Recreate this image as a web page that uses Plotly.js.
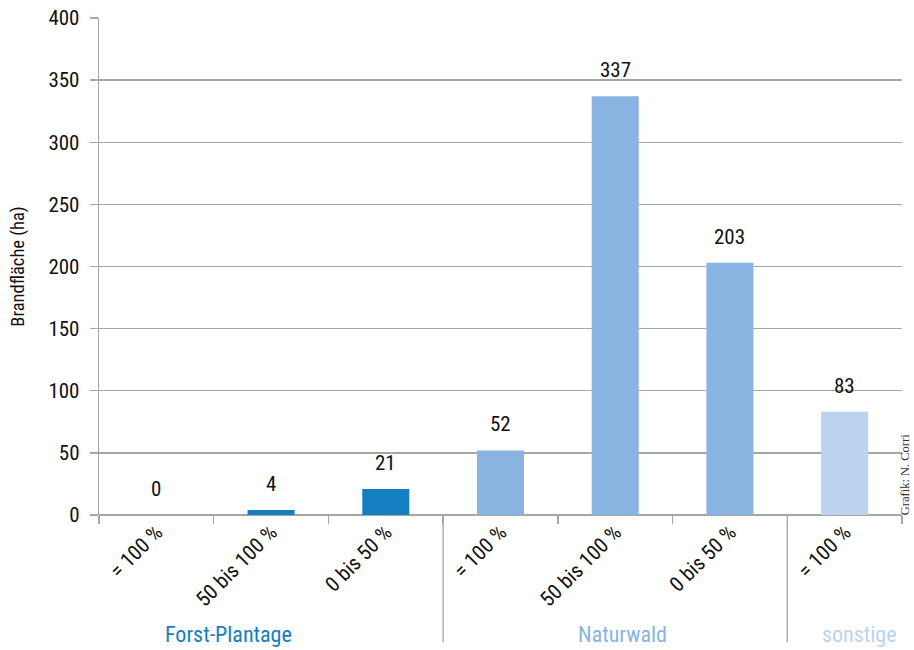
<!DOCTYPE html>
<html>
<head>
<meta charset="utf-8">
<script src="https://cdn.plot.ly/plotly-3.0.1.min.js"></script>
<style>html,body{margin:0;padding:0;background:#fff;}#chart{width:914px;height:650px;}</style>
</head>
<body>
<div id="chart"></div>
<script>
// ---- data ----
var groups = ["Forst-Plantage", "Forst-Plantage", "Forst-Plantage", "Naturwald", "Naturwald", "Naturwald", "sonstige"];
var categoryLabels = ["= 100 %", "50 bis 100 %", "0 bis 50 %", "= 100 %", "50 bis 100 %", "0 bis 50 %", "= 100 %"];
var values = [0, 4, 21, 52, 337, 203, 83];
var groupNames = ["Forst-Plantage", "Naturwald", "sonstige"];
var yTickVals = [0, 50, 100, 150, 200, 250, 300, 350, 400];
var credit = "Grafik: N. Corri";

// ---- styles ----
var groupColors = {"Forst-Plantage": "#137fc0", "Naturwald": "#89b3e0", "sonstige": "#bbd3ef"};
var groupLabelX = {"Forst-Plantage": 0.63, "Naturwald": 4.06, "sonstige": 6.13};
var FONT = "'Liberation Sans Narrow', 'Arial Narrow', 'Roboto Condensed', 'Liberation Sans', Arial, sans-serif";

var ids = groups.map(function (g, i) { return g + "|" + i; });

var trace = {
  type: "bar",
  x: ids,
  y: values,
  marker: {color: groups.map(function (g) { return groupColors[g]; })},
  width: 0.41,
  hoverinfo: "x+y"
};

var annotations = ids.map(function (id, i) {
  return {
    x: id, y: values[i], xref: "x", yref: "y",
    text: String(values[i]), showarrow: false,
    yanchor: "bottom", yshift: 12,
    font: {family: FONT, size: 21, color: "#111"}
  };
});

groupNames.forEach(function (g) {
  annotations.push({
    x: groupLabelX[g], xref: "x", y: -0.24, yref: "paper",
    text: g, showarrow: false, yanchor: "middle", xanchor: "center",
    font: {family: FONT, size: 22, color: groupColors[g]}
  });
});

annotations.push({
  x: 1.0, xref: "paper", xanchor: "right", xshift: 12,
  y: 0.08, yref: "paper", yanchor: "middle",
  text: credit, textangle: -90, showarrow: false,
  font: {family: "'Liberation Serif', 'DejaVu Serif', serif", size: 12.5, color: "#333"}
});

// group separators (between groups)
var shapes = [];
for (var i = 1; i < groups.length; i++) {
  if (groups[i] !== groups[i - 1]) {
    shapes.push({
      type: "line", xref: "x", yref: "paper",
      x0: i - 0.5, x1: i - 0.5, y0: 0, y1: -0.256,
      line: {color: "#a6a6a6", width: 1.3}
    });
  }
}

var layout = {
  width: 914, height: 650,
  margin: {l: 99, r: 12, t: 18, b: 135},
  paper_bgcolor: "#fff", plot_bgcolor: "#fff",
  showlegend: false,
  font: {family: FONT, size: 20, color: "#111"},
  xaxis: {
    type: "category",
    tickmode: "array", tickvals: ids, ticktext: categoryLabels,
    tickson: "boundaries", ticks: "outside", ticklen: 8, tickcolor: "#a6a6a6", tickwidth: 1.3,
    tickangle: -45,
    tickfont: {family: FONT, size: 21, color: "#111"},
    showgrid: false, showline: false, zeroline: false,
    range: [-0.5, 6.5], fixedrange: true
  },
  yaxis: {
    range: [0, 400], tickmode: "array", tickvals: yTickVals,
    ticks: "outside", ticklen: 8, tickcolor: "#a6a6a6", tickwidth: 1.3,
    ticklabelstandoff: 6,
    showgrid: true, gridcolor: "#a6a6a6", gridwidth: 1.3,
    showline: true, linecolor: "#a6a6a6", linewidth: 1.3,
    zeroline: true, zerolinecolor: "#a6a6a6", zerolinewidth: 1.3,
    tickfont: {family: FONT, size: 21, color: "#111"},
    title: {text: "Brandfläche (ha)", font: {family: FONT, size: 18.5, color: "#111"}, standoff: 19},
    automargin: false
  },
  annotations: annotations,
  shapes: shapes
};

Plotly.newPlot("chart", [trace], layout, {displayModeBar: false, staticPlot: true});
</script>
</body>
</html>
